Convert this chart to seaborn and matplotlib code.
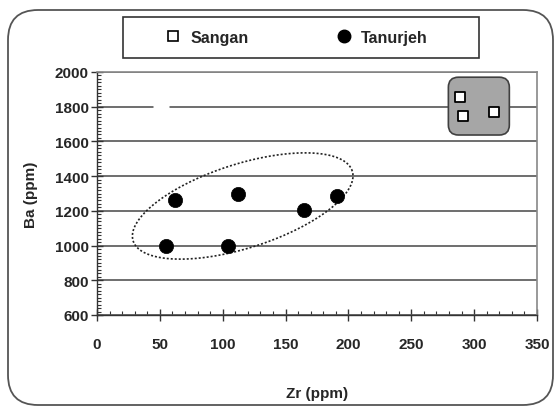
import numpy as np
import pandas as pd
import matplotlib
matplotlib.use("Agg")
import matplotlib.pyplot as plt
from matplotlib.patches import FancyBboxPatch, Rectangle
from matplotlib.ticker import MultipleLocator
from matplotlib.lines import Line2D
import seaborn as sns

# data
tanurjeh_zr = [55, 62, 104, 112, 165, 191]
tanurjeh_ba = [1000, 1265, 1000, 1300, 1205, 1285]
sangan_zr = [289, 291, 316]
sangan_ba = [1855, 1745, 1770]
x_ticks = [0, 50, 100, 150, 200, 250, 300, 350]
y_ticks = [600, 800, 1000, 1200, 1400, 1600, 1800, 2000]

sns.set_style("ticks")
plt.rcParams["font.family"] = ["Liberation Sans Narrow", "Liberation Sans", "DejaVu Sans"]
plt.rcParams["font.weight"] = "bold"

fig = plt.figure(figsize=(5.57, 4.10), dpi=100)
ax = fig.add_axes([97 / 557, 1 - 316 / 410, 440 / 557, 243 / 410])

# outer rounded frame
frame = FancyBboxPatch((8, 4), 545, 395, boxstyle="round,pad=0,rounding_size=30",
                       transform=None, facecolor="none", edgecolor="#555555", lw=1.3)
fig.patches.append(frame)
# legend box
fig.patches.append(Rectangle((123 / 557, 1 - 59 / 410), 356 / 557, 41 / 410,
                             transform=fig.transFigure, facecolor="white",
                             edgecolor="#333333", lw=1.2))

sang = pd.DataFrame({"Zr": sangan_zr, "Ba": sangan_ba})
tan = pd.DataFrame({"Zr": tanurjeh_zr, "Ba": tanurjeh_ba})

ax.set_xlim(0, 350)
ax.set_ylim(600, 2000)

# grey rounded box behind the Sangan samples
px_x = 440 / 350
px_y = 243 / 1400
box = FancyBboxPatch((279.5, 1637), 48.5, 333,
                     boxstyle="round,pad=0,rounding_size=8",
                     mutation_aspect=px_x / px_y,
                     facecolor="#a6a6a6", edgecolor="#404040", lw=1.2, zorder=3)
ax.add_patch(box)

sns.scatterplot(data=sang, x="Zr", y="Ba", marker="s", s=55, color="white",
                edgecolor="black", linewidth=1.3, ax=ax, zorder=5, legend=False)
sns.scatterplot(data=tan, x="Zr", y="Ba", marker="o", s=105, color="black",
                edgecolor="black", linewidth=0.5, ax=ax, zorder=5, legend=False)

# gap in the 1800 grid line
ax.plot([50.7], [1800], marker="s", ms=11, color="white", mec="none", zorder=4)

# dotted ellipse around Tanurjeh samples (sized in pixels, converted to data)
cx, cy = 115.9, 1228
a, b, th = 115, 42, np.deg2rad(17.7)
t = np.linspace(0, 2 * np.pi, 300)
ex = cx + (a * np.cos(t) * np.cos(th) - b * np.sin(t) * np.sin(th)) / px_x
ey = cy + (a * np.cos(t) * np.sin(th) + b * np.sin(t) * np.cos(th)) / px_y
ax.plot(ex, ey, color="#222222", lw=1.2, ls=(0, (1.2, 1.2)), zorder=2)

ax.set_xticks(x_ticks)
ax.set_yticks(y_ticks)
ax.xaxis.set_minor_locator(MultipleLocator(10))
ax.yaxis.set_minor_locator(MultipleLocator(20))
ax.tick_params(which="major", direction="inout", length=8, width=1, color="#333333",
               labelsize=11, pad=2)
ax.tick_params(axis="x", which="major", pad=12)
ax.tick_params(which="minor", direction="in", length=3, width=0.8, color="#333333")
for lab in ax.get_xticklabels() + ax.get_yticklabels():
    lab.set_fontweight("bold")

ax.grid(axis="y", color="#555555", lw=1.2)
ax.set_axisbelow(True)
for side in ["left", "bottom"]:
    ax.spines[side].set_color("#333333")
    ax.spines[side].set_linewidth(1)
for side in ["top", "right"]:
    ax.spines[side].set_visible(True)
    ax.spines[side].set_color("#888888")
    ax.spines[side].set_linewidth(1.2)

ax.set_xlabel("Zr (ppm)", fontsize=11, fontweight="bold", labelpad=25)
ax.set_ylabel("Ba (ppm)", fontsize=11, fontweight="bold", labelpad=12)

handles = [
    Line2D([], [], ls="none", marker="s", ms=7, mfc="white", mec="black", mew=1.2),
    Line2D([], [], ls="none", marker="o", ms=9, mfc="black", mec="black"),
]
leg = fig.legend(handles, ["Sangan", "Tanurjeh"], loc="center", ncol=2,
                 bbox_to_anchor=(165 / 557, 1 - 59 / 410, 263 / 557, 41 / 410),
                 mode="expand", frameon=False,
                 prop={"weight": "bold", "size": 11.5},
                 handletextpad=0.6, borderpad=0, borderaxespad=0,
                 handlelength=1.0)

fig.savefig("out.png", dpi=100)
